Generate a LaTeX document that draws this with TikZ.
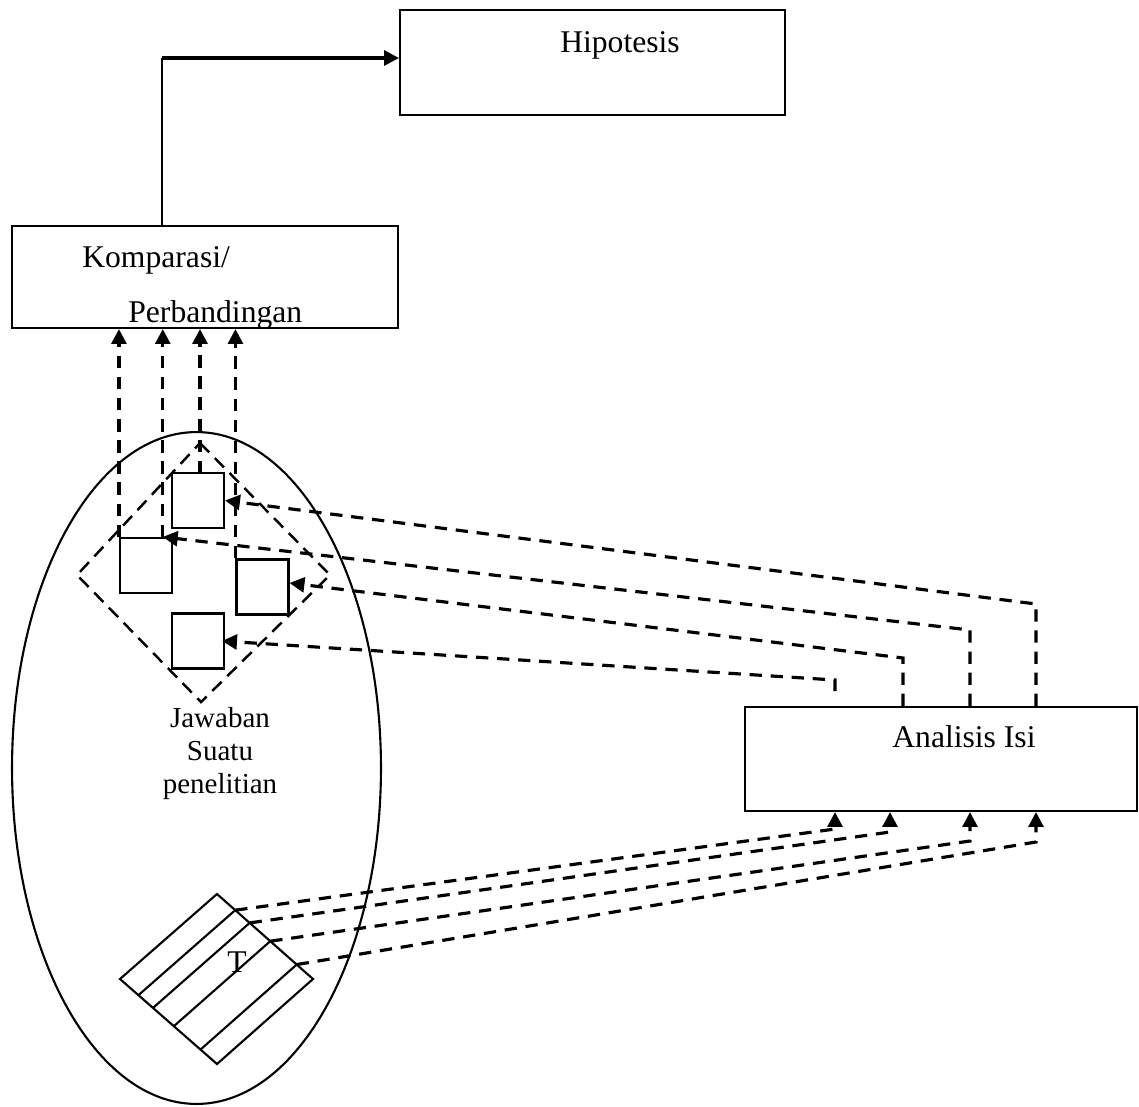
\documentclass[tikz,border=0pt]{standalone}
\usepackage{fontspec}
\setmainfont{Liberation Serif}
\usetikzlibrary{arrows.meta,calc,shapes.geometric}
\begin{document}
\begin{tikzpicture}[x=0.02cm,y=-0.02cm,
  box/.style={draw,line width=1.2pt,rectangle,inner sep=0pt},
  sq/.style={draw,line width=1.2pt,rectangle,minimum width=1.04cm,minimum height=1.1cm,inner sep=0pt},
  dl/.style={line width=1.8pt,dash pattern=on 7pt off 5pt},
  dd/.style={line width=1.4pt,dash pattern=on 7.5pt off 4.5pt},
  tip/.style={-{Triangle[length=8.5pt,width=8.5pt]}},
  big/.style={font=\fontsize{18}{22}\selectfont,inner sep=0pt},
  mid/.style={font=\fontsize{16.5}{19}\selectfont,inner sep=0pt,anchor=base}]
\useasboundingbox (0,0) rectangle (1139,1106);

% main boxes
\node[box,minimum width=7.7cm,minimum height=2.1cm] (hip) at (592.5,62.5) {};
\node[big,anchor=base] (hiptxt) at (620,52) {Hipotesis};
\node[box,minimum width=7.72cm,minimum height=2.04cm] (komp) at (205,277) {};
\node[big,anchor=base west] (komptxt) at (82,267) {Komparasi/};
\begin{scope}
  \clip (komp.south west) rectangle (komp.north east);
  \node[big,anchor=base west] (perbtxt) at (128,322) {Perbandingan};
\end{scope}
\node[box,minimum width=7.84cm,minimum height=2.08cm] (ana) at (941,759) {};
\node[big,anchor=base west] (anatxt) at (892,747) {Analisis Isi};

% ellipse
\node[draw,ellipse,line width=1.2pt,inner sep=0pt,minimum width=7.38cm,minimum height=13.44cm] (ell) at (196.5,768) {};

% dashed diamond
\coordinate (dt) at (200,443);
\coordinate (dr) at (330,575);
\coordinate (db) at (201,702);
\coordinate (dlf) at (77,575);
\draw[dd] (dt) -- (dr) -- (db) -- (dlf) -- cycle;

% small squares
\node[sq] (sqA) at (198,500.5) {};
\node[sq] (sqB) at (146,565.5) {};
\node[sq] (sqC) at (262.5,587) {};
\node[sq] (sqD) at (198,641) {};

% Jawaban text
\node[mid] (j1) at (220,727) {Jawaban};
\node[mid] (j2) at (220,760) {Suatu};
\node[mid] (j3) at (220,793) {penelitian};

% T square
\coordinate (tqt) at (217,894);
\coordinate (tqr) at (313,979);
\coordinate (tqb) at (217,1064);
\coordinate (tql) at (120,979);
\draw[line width=1.2pt] (tqt) -- (tqr) -- (tqb) -- (tql) -- cycle;
\foreach \f [count=\i] in {0.19,0.34,0.555,0.83}{
  \coordinate (tu\i) at ($(tqt)!\f!(tqr)$);
  \coordinate (tv\i) at ($(tql)!\f!(tqb)$);
  \draw[line width=1.2pt] (tu\i) -- (tv\i);
}
\node[big] (tlab) at (237,962) {T};

% arrow Komparasi -> Hipotesis
\coordinate (c1) at (162,58);
\draw[line width=1pt] (komp.north -| c1) -- (c1);
\draw[line width=1.8pt,tip] (c1) -- (hip.west |- c1);

% dashed up arrows into Komparasi
\coordinate (b2) at ($(sqB.north west)!0.81!(sqB.north east)$);
\draw[dl,tip] (sqB.north west) -- (sqB.north west |- komp.south);
\draw[dl,tip] (b2) -- (b2 |- komp.south);
\coordinate (a2) at (200,473);
\draw[dl,tip] (a2) -- (a2 |- komp.south);
\draw[dl,tip] (sqC.north west) -- (sqC.north west |- komp.south);

% dashed from Analisis Isi to squares
\coordinate (r1) at (1036,604);
\coordinate (r2) at (970,630);
\coordinate (r3) at (903,658);
\coordinate (r4) at (835,680);
\coordinate (r4s) at (835,691);
\draw[dl,tip] (ana.north -| r1) -- (r1) -- (sqA.east);
\draw[dl,tip] (ana.north -| r2) -- (r2) -- (b2);
\draw[dl,tip] (ana.north -| r3) -- (r3) -- ($(sqC.east)+(0,-4)$);
\draw[dl,tip] (r4s) -- (r4) -- ($(sqD.east)+(-3,0)$);

% dashed from T to Analisis Isi
\coordinate (q1) at (835,829);
\coordinate (q2) at (890,832);
\coordinate (q3) at (970,841);
\coordinate (q4) at (1036,842);
\draw[dl,tip] (tu1) -- (q1) -- (ana.south -| q1);
\draw[dl,tip] (tu2) -- (q2) -- (ana.south -| q2);
\draw[dl,tip] (tu3) -- (q3) -- (ana.south -| q3);
\draw[dl,tip] (tu4) -- (q4) -- (ana.south -| q4);
\end{tikzpicture}
\end{document}
